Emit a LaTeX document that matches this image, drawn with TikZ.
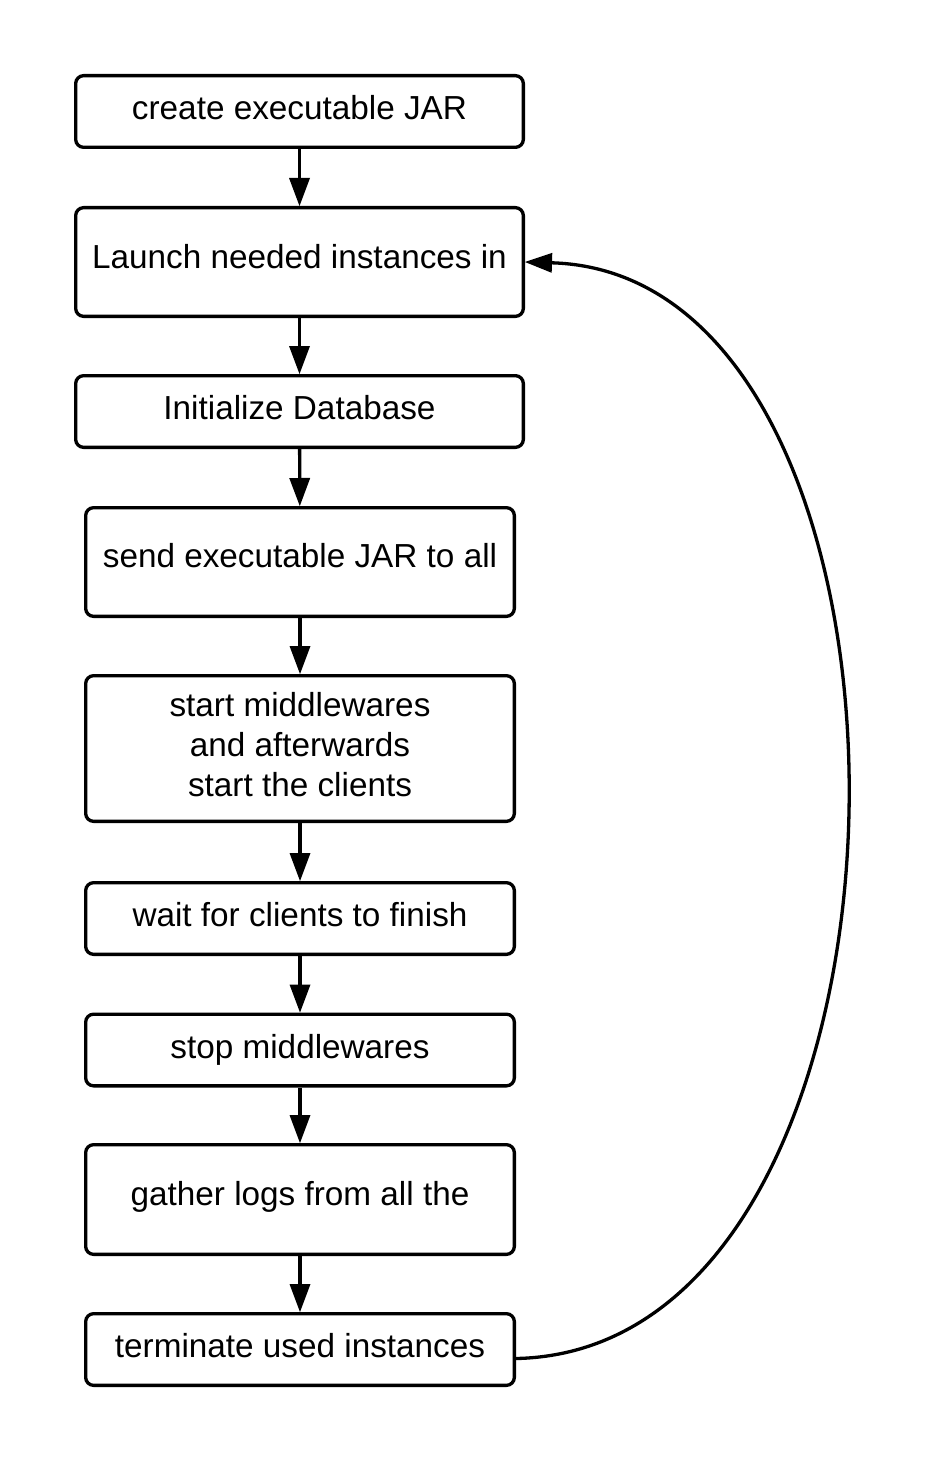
\documentclass[tikz,border=0pt]{standalone}
\usepackage{fontspec}
\setmainfont{Liberation Sans}
\usetikzlibrary{arrows.meta}
\tikzset{
  box/.style={draw, line width=3.3pt, rounded corners=8pt, inner sep=0pt,
    align=center, font=\fontsize{33.3}{39.7}\selectfont},
  wide/.style={minimum width=447.7pt},
  narrow/.style={minimum width=428.7pt},
  shortbox/.style={minimum height=71.7pt, text height=20pt, text depth=4pt},
  tallbox/.style={minimum height=108.7pt, text height=20pt, text depth=9pt},
  flow/.style={line width=3.3pt, -{Triangle[length=28pt,width=21pt,line width=0pt]}},
  loopback/.style={line width=3.3pt, -{Triangle[length=27pt,width=20pt,line width=0pt]}}
}
\begin{document}
\begin{tikzpicture}[x=1pt,y=-1pt]
\useasboundingbox (0,0) rectangle (924,1463);
\node[box,wide,shortbox] (b1) at (299.5,111.5) {create executable JAR};
\node[box,wide,tallbox,text depth=8pt] (b2) at (299.5,262) {Launch needed instances in};
\node[box,wide,shortbox] (b3) at (299.5,411.5) {Initialize Database};
\node[box,narrow,tallbox,text depth=10pt] (b4) at (300,562) {send executable JAR to all};
\node[box,narrow,minimum height=145.7pt] (b5) at (300,748.5) {\raisebox{5pt}{\begin{tabular}{@{}c@{}}start middlewares\\and afterwards\\start the clients\end{tabular}}};
\node[box,narrow,shortbox] (b6) at (300,918.5) {wait for clients to finish};
\node[box,narrow,shortbox] (b7) at (300,1050) {stop middlewares};
\node[box,narrow,tallbox,minimum height=109.7pt] (b8) at (300,1199.5) {gather logs from all the};
\node[box,narrow,shortbox] (b9) at (300,1349.5) {terminate used instances};
\draw[flow] (b1) -- (b2);
\draw[flow] (b2) -- (b3);
\draw[flow] (b3) -- (b4);
\draw[flow] (b4) -- (b5);
\draw[flow] (b5) -- (b6);
\draw[flow] (b6) -- (b7);
\draw[flow] (b7) -- (b8);
\draw[flow] (b8) -- (b9);
\coordinate (loopstart) at ([yshift=-9pt]b9.east);
\draw[loopback] (loopstart) .. controls (950,1350) and (958,275) .. (b2.east);
\end{tikzpicture}
\end{document}
